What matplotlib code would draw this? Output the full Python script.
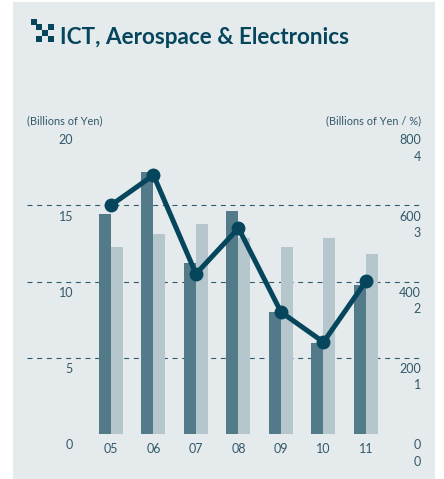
import matplotlib
matplotlib.use("Agg")
import matplotlib.pyplot as plt
from matplotlib.patches import Rectangle

years = ["05", "06", "07", "08", "09", "10", "11"]
dark_bars = [14.4, 17.2, 11.2, 14.6, 8.0, 6.0, 9.8]
light_bars = [490, 525, 551, 514, 490, 514, 472]
line_vals = [600, 679, 420, 540, 320, 241, 401]

left_ticks = [0, 5, 10, 15, 20]
right_ticks = [0, 200, 400, 600, 800]
pct_ticks = [0, 1, 2, 3, 4]

W, H = 444, 479
BG = "#e5eaed"
DARK = "#527a88"
LIGHT = "#b5c6cd"
LINE = "#05465c"
TXT = "#33596a"

plt.rcParams["font.family"] = ["Lato", "DejaVu Sans"]

fig = plt.figure(figsize=(W / 100, H / 100), dpi=100, facecolor="white")


# pixels de la imatge a coordenades de figura
def fx(px):
    return px / W


def fy(py):
    return 1 - py / H


# fons del panell
fig.add_artist(Rectangle((fx(13), fy(479)), 422 / W, 477 / H, transform=fig.transFigure,
                         facecolor=BG, edgecolor="none", zorder=-5))

# icona del titol
for x0, y0 in [(31, 19), (36, 24), (48, 24), (42, 30), (36, 36), (48, 36)]:
    fig.add_artist(Rectangle((fx(x0), fy(y0 + 6)), 6 / W, 6 / H, transform=fig.transFigure,
                             facecolor=LINE, edgecolor="none"))

fig.text(fx(60), fy(37.5), "ICT, Aerospace & Electronics", fontsize=16.2, fontweight="bold",
         color=LINE, va="center", ha="left")
fig.text(fx(27), fy(121), "(Billions of Yen)", fontsize=7.9, color=TXT, va="center", ha="left")
fig.text(fx(421), fy(121), "(Billions of Yen / %)", fontsize=7.9, color=TXT, va="center", ha="right")

ax = fig.add_axes([fx(27), fy(434), 395 / W, 305 / H])
ax.patch.set_alpha(0)
ax2 = ax.twinx()
ax2.patch.set_alpha(0)

xs = list(range(len(years)))
w = 12 / 42.5
ax.set_xlim(-1.976, 7.318)
ax.set_ylim(0, 20)
ax2.set_ylim(0, 800)

for v in left_ticks[1:4]:
    ax.axhline(v, color="#2f5d6e", lw=0.8, dashes=(4.5, 4.2), zorder=1)

ax.bar([x - w / 2 for x in xs], dark_bars, width=w, color=DARK, zorder=2)
ax2.bar([x + w / 2 for x in xs], light_bars, width=w, color=LIGHT, zorder=2)
ax2.plot(xs, line_vals, color=LINE, lw=3.6, marker="o", ms=9, zorder=3)

for a in (ax, ax2):
    for s in a.spines.values():
        s.set_visible(False)
    a.tick_params(left=False, right=False, bottom=False, labelleft=False, labelright=False)

ax.set_xticks(xs)
ax.set_xticklabels(years, fontsize=9, color=TXT)
ax.tick_params(axis="x", pad=3)

# etiquetes dels eixos, desplacades sota la linia
for v in left_ticks:
    ax.annotate(str(v), (0, v), xycoords=ax.get_yaxis_transform(), xytext=(46 * 0.72, -8.2),
                textcoords="offset points", ha="right", va="center", fontsize=9, color=TXT)
for v, p in zip(right_ticks, pct_ticks):
    ax2.annotate(str(v), (1, v), xycoords=ax2.get_yaxis_transform(), xytext=(-0.72, -8.2),
                 textcoords="offset points", ha="right", va="center", fontsize=9, color=TXT)
    ax2.annotate(str(p), (1, v), xycoords=ax2.get_yaxis_transform(), xytext=(-0.72, -19.8),
                 textcoords="offset points", ha="right", va="center", fontsize=9, color=TXT)

fig.savefig("out.png", dpi=100, facecolor="white")
